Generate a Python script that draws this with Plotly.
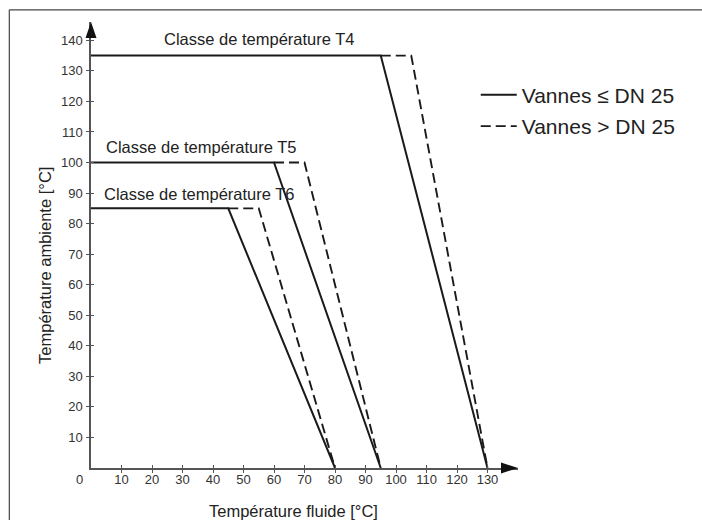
import plotly.graph_objects as go

# ---- data ----
classes = ["T4", "T5", "T6"]
limit_ambient = [135, 100, 85]        # max ambient temperature [°C]
knee_small = [95, 60, 45]             # fluid temp where derating starts, Vannes ≤ DN 25
knee_large = [105, 70, 55]            # fluid temp where derating starts, Vannes > DN 25
max_fluid = [130, 95, 80]             # max fluid temperature at 0 °C ambient
x_ticks = [10, 20, 30, 40, 50, 60, 70, 80, 90, 100, 110, 120, 130]
y_ticks = [10, 20, 30, 40, 50, 60, 70, 80, 90, 100, 110, 120, 130, 140]
series_names = ["Vannes ≤ DN 25", "Vannes > DN 25"]

LINE = "#1a1a1a"
AXIS = "#555555"
FONT = "Liberation Sans, Arial, Helvetica, sans-serif"

fig = go.Figure()
for i, c in enumerate(classes):
    # solid: valves <= DN25
    fig.add_trace(go.Scatter(
        x=[0, knee_small[i], max_fluid[i]],
        y=[limit_ambient[i], limit_ambient[i], 0],
        mode="lines", line=dict(color=LINE, width=2),
        name=series_names[0], legendgroup="a", showlegend=(i == 0),
        hoverinfo="skip"))
    # dashed: valves > DN25
    fig.add_trace(go.Scatter(
        x=[knee_small[i], knee_large[i], max_fluid[i]],
        y=[limit_ambient[i], limit_ambient[i], 0],
        mode="lines", line=dict(color=LINE, width=1.9, dash="10px,5px"),
        name=series_names[1], legendgroup="b", showlegend=(i == 0),
        hoverinfo="skip"))

# class labels (position styling)
label_pos = {"T4": (23.3, 140.3), "T5": (4.3, 105.2), "T6": (3.6, 89.7)}
annotations = []
for c in classes:
    lx, ly = label_pos[c]
    annotations.append(dict(x=lx, y=ly, xref="x", yref="y", xanchor="left", yanchor="middle",
                            text=f"Classe de température {c}", showarrow=False,
                            font=dict(family=FONT, size=16.5, color="#222")))

# axis titles and corner zero
annotations += [
    dict(x=0.475, y=-0.096, xref="paper", yref="paper", text="Température fluide [°C]",
         showarrow=False, xanchor="center", yanchor="middle",
         font=dict(family=FONT, size=16.5, color="#222")),
    dict(x=-0.108, y=0.455, xref="paper", yref="paper", text="Température ambiente [°C]",
         showarrow=False, textangle=-90, xanchor="center", yanchor="middle",
         font=dict(family=FONT, size=16.5, color="#222")),
    dict(x=-0.028, y=-0.026, xref="paper", yref="paper", text="0", showarrow=False,
         xanchor="center", yanchor="middle", font=dict(family=FONT, size=13, color="#333")),
]

shapes = [
    # arrow heads at axis ends (paper-referenced so they are not clipped)
    dict(type="path", xref="paper", yref="paper", xsizemode="pixel", ysizemode="pixel",
         xanchor=1, yanchor=0, path="M -17 -5.5 L 0 0 L -17 5.5 Z",
         fillcolor="#111", line=dict(width=0)),
    dict(type="path", xref="paper", yref="paper", xsizemode="pixel", ysizemode="pixel",
         xanchor=0, yanchor=1, path="M -5.5 -16 L 0 0 L 5.5 -16 Z",
         fillcolor="#111", line=dict(width=0)),
    # outer frame (top and left edges)
    dict(type="line", xref="paper", yref="paper", x0=-0.1913, x1=1.5, y0=1.0273, y1=1.0273,
         line=dict(color="#444", width=1.2)),
    dict(type="line", xref="paper", yref="paper", x0=-0.1913, x1=-0.1913, y0=1.0273, y1=-0.2,
         line=dict(color="#444", width=1.2)),
]

tickfont = dict(family=FONT, size=13, color="#333")
fig.update_layout(
    width=702, height=520,
    margin=dict(l=91, r=184, t=21.5, b=51.7, autoexpand=False),
    plot_bgcolor="white", paper_bgcolor="white",
    showlegend=True,
    legend=dict(x=0.901, y=0.882, xanchor="left", yanchor="top",
                font=dict(family=FONT, size=21, color="#222"),
                traceorder="grouped", tracegroupgap=1, itemwidth=36,
                bgcolor="rgba(0,0,0,0)"),
    xaxis=dict(range=[0, 140], tickvals=x_ticks, ticktext=[str(v) for v in x_ticks],
               showgrid=False, zeroline=False, showline=True, linecolor=AXIS, linewidth=1.5,
               ticks="outside", ticklen=3, tickcolor=AXIS, tickwidth=1.2,
               tickfont=tickfont, ticklabelstandoff=-4),
    yaxis=dict(range=[0, 146], tickvals=y_ticks, ticktext=[str(v) for v in y_ticks],
               showgrid=False, zeroline=False, showline=True, linecolor=AXIS, linewidth=1.5,
               ticks="outside", ticklen=3, tickcolor=AXIS, tickwidth=1.2,
               tickfont=tickfont, ticklabelstandoff=1),
    xaxis2=dict(overlaying="x", anchor="y", range=[0, 140], tickvals=x_ticks,
                showticklabels=False, ticks="inside", ticklen=3, tickcolor=AXIS, tickwidth=1.2,
                showgrid=False, zeroline=False, showline=False, side="bottom"),
    yaxis2=dict(overlaying="y", anchor="x", range=[0, 146], tickvals=y_ticks,
                showticklabels=False, ticks="inside", ticklen=3, tickcolor=AXIS, tickwidth=1.2,
                showgrid=False, zeroline=False, showline=False, side="left"),
    annotations=annotations,
    shapes=shapes,
)
# empty helper trace so the inner tick axes are drawn
fig.add_trace(go.Scatter(x=[None], y=[None], xaxis="x2", yaxis="y2", showlegend=False,
                         hoverinfo="skip"))

fig.write_html(
    "out.html",
    config={"displayModeBar": False},
    post_script=("document.body.style.margin='0';"
                 "document.body.style.overflow='hidden';"
                 "document.documentElement.style.overflow='hidden';"),
)
